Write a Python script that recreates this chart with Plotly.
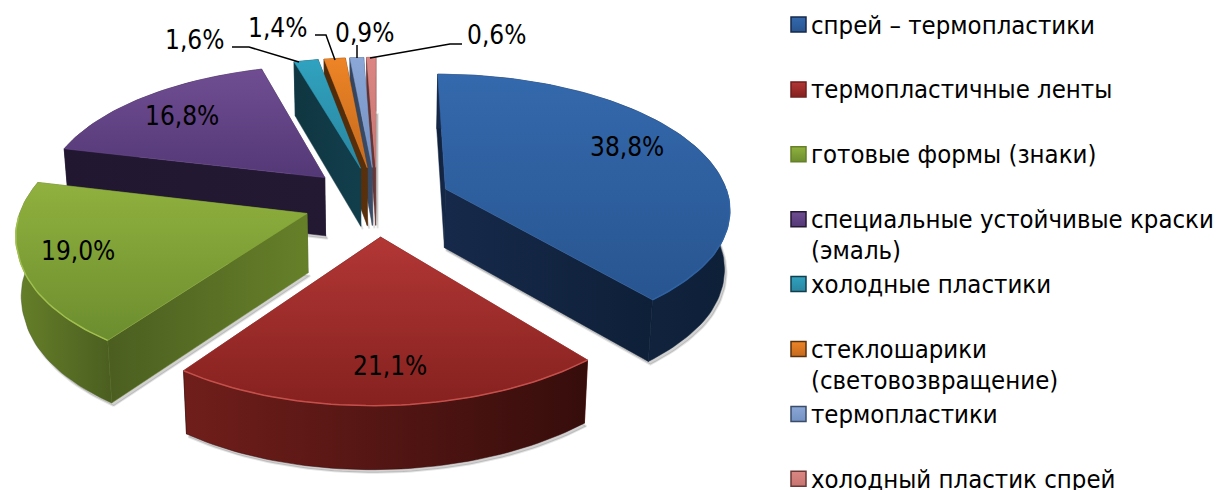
import numpy as np
import plotly.graph_objects as go

categories = ["спрей – термопластики", "термопластичные ленты", "готовые формы (знаки)",
              "специальные устойчивые краски<br>(эмаль)", "холодные пластики",
              "стеклошарики<br>(световозвращение)", "термопластики", "холодный пластик спрей"]
values = [38.8, 21.1, 19.0, 16.8, 1.6, 1.4, 0.9, 0.6]
value_labels = ["38,8%", "21,1%", "19,0%", "16,8%", "1,6%", "1,4%", "0,9%", "0,6%"]

top_light = ["#3469AD", "#B23735", "#90B13E", "#704D92", "#30A2BF", "#EE8426", "#8BA7D7", "#DB8683"]
top_dark = ["#285590", "#85211F", "#6C8D2E", "#533876", "#2A86A0", "#C46A1E", "#7391C2", "#C77572"]
wall_a = ["#16294A", "#701E1B", "#668029", "#241932", "#123E4C", "#5A300C", "#3A4C68", "#6A3836"]
wall_b = ["#0E2038", "#360D0B", "#4B5E20", "#211730", "#0F3641", "#4E2A0A", "#34445E", "#5E302E"]
rim = ["#2F62A3", "#C4504C", "#A0C04F", "#704D92", "#30A2BF", "#EE8426", "#8BA7D7", "#DB8683"]

CX, CY, A, B, K, KX, EXPL = 377.0, 201.0, 284.0, 134.0, 0.139, 0.13, 0.26
FONT = "DejaVu Sans Condensed"
FS_LEG, FS_VAL = 25.5, 26


def proj(X, Y):
    X = np.asarray(X, dtype=float); Y = np.asarray(Y, dtype=float)
    skew = 7 * np.minimum(Y + 0.4, 0) / 0.67
    return CX + A * X / (1 + KX * Y) + skew, CY - B * Y / (1 + K * Y)


def depth(Y):
    return 59 - 4.0 * Y


def drop(x, y, Y):
    return CX + (x - CX) * 0.985, y + depth(Y)


def face(fig, xs, ys, c1, c2, kind="vertical", close=True):
    xs = list(xs); ys = list(ys)
    if close:
        xs.append(xs[0]); ys.append(ys[0])
    fig.add_trace(go.Scatter(x=xs, y=ys, mode="lines", fill="toself", line=dict(width=0.5, color=c2),
                             fillgradient=dict(type=kind, colorscale=[[0, c1], [1, c2]]),
                             hoverinfo="skip", showlegend=False))


total = sum(values)
edges = np.concatenate([[0], np.cumsum(values)]) / total * 2 * np.pi
fig = go.Figure()

for i in [7, 6, 5, 4, 3, 0, 2, 1]:
    t0, t1 = edges[i], edges[i + 1]
    mid = (t0 + t1) / 2
    ox, oy = EXPL * np.sin(mid), EXPL * np.cos(mid)
    th = np.linspace(t0, t1, max(8, int((t1 - t0) * 40)))
    AX, AY = ox + np.sin(th), oy + np.cos(th)
    ax, ay = proj(AX, AY)
    px, py = proj(ox, oy)
    px, py = float(px), float(py)
    bx, by = drop(ax, ay, AY)
    qx, qy = drop(px, py, oy)

    # soft drop shadow below the walls
    sx = list(bx + 2) + [qx + 2]
    sy = list(by + 3) + [qy + 3]
    fig.add_trace(go.Scatter(x=sx + sx[:1], y=sy + sy[:1], mode="lines", fill="toself",
                             line=dict(width=2, color="rgba(0,0,0,0.10)"),
                             fillcolor="rgba(0,0,0,0.18)", hoverinfo="skip", showlegend=False))

    faces = []
    # cut faces
    faces.append(((oy + AY[0]) / 2, [px, ax[0], bx[0], qx], [py, ay[0], by[0], qy], wall_b[i], wall_a[i]))
    faces.append(((oy + AY[-1]) / 2, [px, ax[-1], bx[-1], qx], [py, ay[-1], by[-1], qy], wall_a[i], wall_b[i]))
    # outer face
    faces.append((AY.mean() - 0.3, list(ax) + list(bx[::-1]), list(ay) + list(by[::-1]), wall_a[i], wall_b[i]))
    for _, fx, fy, c1, c2 in sorted(faces, key=lambda f: -f[0]):
        face(fig, fx, fy, c1, c2, "horizontal")

    # the gradient's first colour lands at the lower edge because the y axis is reversed
    face(fig, [px] + list(ax), [py] + list(ay), top_dark[i], top_light[i], "vertical")
    front = AY - oy < 0
    if front.any():
        fig.add_trace(go.Scatter(x=ax[front], y=ay[front], mode="lines", line=dict(width=1.5, color=rim[i]),
                                 hoverinfo="skip", showlegend=False))

annotations = []

# value labels
val_xy = [(627, 147), (390, 366), (78, 251), (182, 116), (194, 40), (277, 28), (364, 33), (496, 35)]
for (x, y), t in zip(val_xy, value_labels):
    annotations.append(dict(x=x, y=y, text=t, showarrow=False, xanchor="center", yanchor="middle",
                            font=dict(family=FONT, size=FS_VAL, color="#000000")))

# leader lines
leaders = [([232, 249, 299], [47, 47, 62]), ([315, 326, 335], [35, 35, 60]),
           ([357, 357], [45, 58]), ([462, 450, 370], [44, 44, 58])]
for lx, ly in leaders:
    fig.add_trace(go.Scatter(x=lx, y=ly, mode="lines", line=dict(width=1.5, color="#000000"),
                             hoverinfo="skip", showlegend=False))

# legend
LEG_Y0, LEG_STEP = 24.5, 64.9
for i, name in enumerate(categories):
    y = LEG_Y0 + i * LEG_STEP
    fig.add_trace(go.Scatter(x=[798.5], y=[y], mode="markers", hoverinfo="skip", showlegend=False,
                             marker=dict(symbol="square", size=15, color=top_light[i],
                                         gradient=dict(type="vertical", color=top_dark[i]),
                                         line=dict(width=1.5, color=wall_a[i]))))
    for j, line in enumerate(name.split("<br>")):
        annotations.append(dict(x=809, y=y + j * 31, text=line, showarrow=False, xanchor="left",
                                yanchor="middle", font=dict(family=FONT, size=FS_LEG, color="#000000")))

fig.update_layout(width=1216, height=490, margin=dict(l=0, r=0, t=0, b=0),
                  paper_bgcolor="#FFFFFF", plot_bgcolor="#FFFFFF", showlegend=False,
                  xaxis=dict(range=[0, 1216], visible=False, fixedrange=True),
                  yaxis=dict(range=[490, 0], visible=False, fixedrange=True),
                  annotations=annotations)
fig.write_html("out.html", config=dict(displayModeBar=False),
               post_script="document.body.style.margin='0';document.body.style.overflow='hidden';")
